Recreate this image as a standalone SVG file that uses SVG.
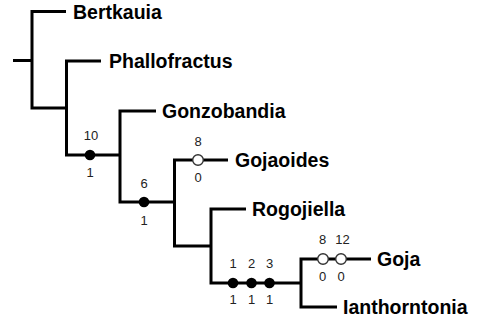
<svg xmlns="http://www.w3.org/2000/svg" width="482" height="320" viewBox="0 0 482 320">
  <style>
    .br { fill: none; stroke: #000; stroke-width: 3; stroke-linecap: butt; stroke-linejoin: miter; }
    .taxon { font-family: "Liberation Sans", Arial, sans-serif; font-weight: bold; font-size: 19.5px; fill: #000; }
    .num { font-family: "Liberation Sans", Arial, sans-serif; font-size: 13px; fill: #222; text-anchor: middle; }
    .gain { fill: #000; }
    .loss { fill: #fff; stroke: #333; stroke-width: 1.4; }
  </style>

  <!-- tree branches -->
  <g id="branches">
    <path class="br" d="M13,60.5 H32"/>
    <path class="br" d="M66,11.5 H32 V108 H66.5"/>
    <path class="br" d="M101,61 H66.5 V155 H120"/>
    <path class="br" d="M156,111 H120 V202 H174.5"/>
    <path class="br" d="M228,160 H174.5 V246 H211"/>
    <path class="br" d="M246,209 H211 V283 H301"/>
    <path class="br" d="M371,259 H301 V307 H337"/>
  </g>

  <!-- terminal taxa -->
  <g id="bertkauia"><text class="taxon" x="73" y="19">Bertkauia</text></g>
  <g id="phallofractus"><text class="taxon" x="109" y="68">Phallofractus</text></g>
  <g id="gonzobandia"><text class="taxon" x="162" y="118">Gonzobandia</text></g>
  <g id="gojaoides"><text class="taxon" x="235" y="167">Gojaoides</text></g>
  <g id="rogojiella"><text class="taxon" x="252" y="216">Rogojiella</text></g>
  <g id="goja"><text class="taxon" x="377" y="266">Goja</text></g>
  <g id="ianthorntonia"><text class="taxon" x="343" y="314">Ianthorntonia</text></g>

  <!-- character state changes -->
  <g id="char-10">
    <circle class="gain" cx="90" cy="155" r="5.3"/>
    <text class="num" x="91" y="140">10</text>
    <text class="num" x="90" y="177">1</text>
  </g>
  <g id="char-6">
    <circle class="gain" cx="144" cy="202" r="5.3"/>
    <text class="num" x="144" y="188">6</text>
    <text class="num" x="144" y="225">1</text>
  </g>
  <g id="char-8a">
    <circle class="loss" cx="198" cy="160" r="5.3"/>
    <text class="num" x="198" y="146">8</text>
    <text class="num" x="198" y="182">0</text>
  </g>
  <g id="char-1">
    <circle class="gain" cx="233" cy="283" r="5.3"/>
    <text class="num" x="233" y="268">1</text>
    <text class="num" x="233" y="304">1</text>
  </g>
  <g id="char-2">
    <circle class="gain" cx="251.5" cy="283" r="5.3"/>
    <text class="num" x="251.5" y="268">2</text>
    <text class="num" x="251.5" y="304">1</text>
  </g>
  <g id="char-3">
    <circle class="gain" cx="269.5" cy="283" r="5.3"/>
    <text class="num" x="269.5" y="268">3</text>
    <text class="num" x="269.5" y="304">1</text>
  </g>
  <g id="char-8b">
    <circle class="loss" cx="323" cy="259" r="5.3"/>
    <text class="num" x="322.5" y="244">8</text>
    <text class="num" x="322.5" y="281">0</text>
  </g>
  <g id="char-12">
    <circle class="loss" cx="341" cy="259" r="5.3"/>
    <text class="num" x="342.5" y="244">12</text>
    <text class="num" x="341" y="281">0</text>
  </g>
</svg>
